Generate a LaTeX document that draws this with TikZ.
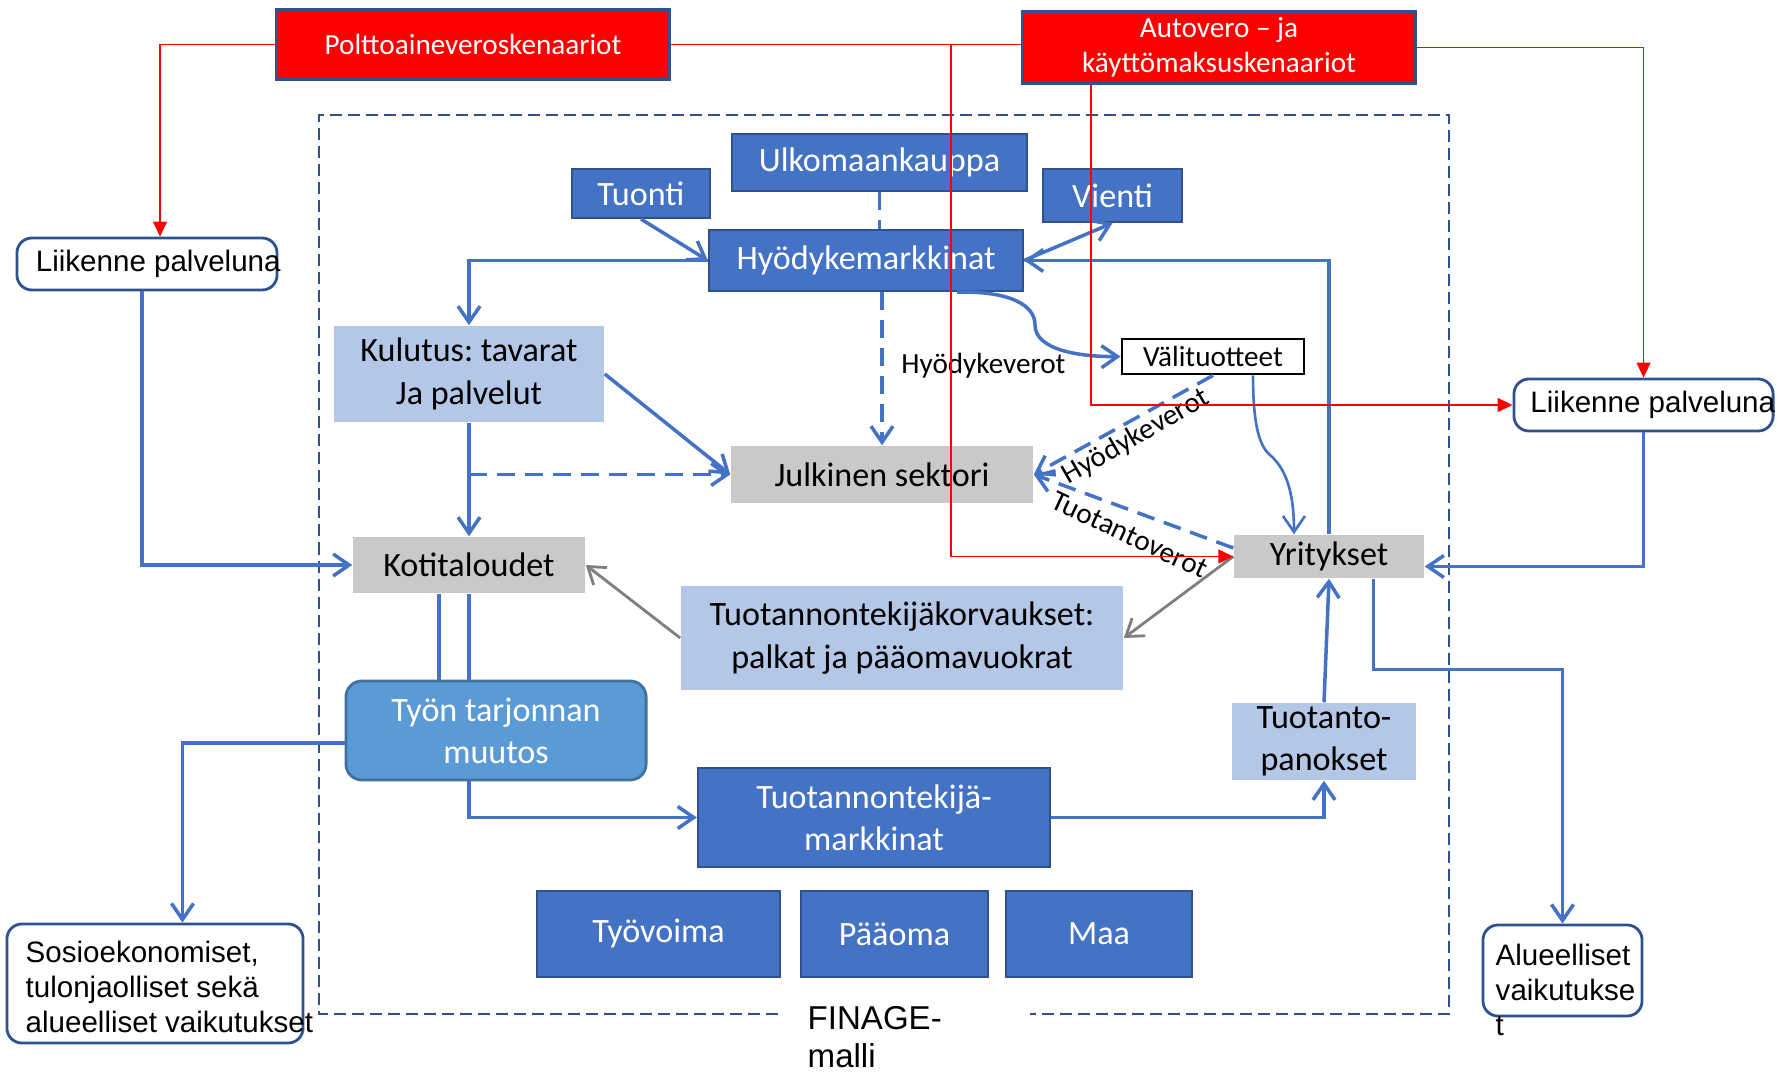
\documentclass[tikz,border=0pt]{standalone}
\usepackage{fontspec}
\setmainfont{Carlito}
\newfontfamily\arialfont{Liberation Sans}
\usetikzlibrary{arrows.meta}
\definecolor{pptblue}{HTML}{4472C4}
\definecolor{pptdark}{HTML}{2F528F}
\definecolor{pptlight}{HTML}{B4C7E7}
\definecolor{pptgray}{HTML}{C9C9C9}
\definecolor{pptmid}{HTML}{5B9BD5}
\definecolor{pptmidedge}{HTML}{41719C}
\definecolor{arrgray}{HTML}{7F7F7F}
\frenchspacing
\begin{document}
\begin{tikzpicture}[x=0.01cm,y=-0.01cm,
	bigtxt/.style={font=\fontsize{9.7}{12}\selectfont},
	smalltxt/.style={font=\fontsize{8.3}{10}\selectfont},
	arialtxt/.style={font=\arialfont\fontsize{8.4}{10}\selectfont},
	bluebox/.style={draw=pptdark,line width=0.6pt,fill=pptblue,text=white,bigtxt,align=center,inner sep=1pt},
	lightbox/.style={fill=pptlight,bigtxt,align=center,inner sep=1pt},
	graybox/.style={fill=pptgray,bigtxt,align=center,inner sep=1pt},
	redbox/.style={draw=pptdark,line width=0.9pt,fill=red,text=white,smalltxt,align=center,inner sep=1pt},
	whitebox/.style={draw=pptdark,line width=0.8pt,fill=white,rounded corners=0.15cm,arialtxt,inner sep=1pt},
	flow/.style={draw=pptblue,line width=1pt,-{Straight Barb[length=1.6mm,width=2.2mm]}},
	plainflow/.style={draw=pptblue,line width=1pt},
	dashflow/.style={dash pattern=on 0.18cm off 0.1cm},
	grayflow/.style={draw=arrgray,line width=0.8pt,-{Straight Barb[length=1.6mm,width=2.2mm]}},
	redline/.style={draw=red,line width=0.4pt,-{Triangle[length=1.5mm,width=1.4mm]}}]
	\useasboundingbox (0,0) rectangle (1786,1074);
	\draw[pptdark,line width=0.6pt,dash pattern=on 0.12cm off 0.06cm] (778,1014) -| (319,115) -| (1449,1014) -- (1030,1014);
	\node[arialtxt,font=\arialfont\fontsize{9.4}{10.8}\selectfont,align=left,anchor=north west,inner sep=0pt] (finage) at (807,1006) {FINAGE-\\malli};
	\node[redbox,minimum width=3.92cm,minimum height=0.69cm] (poltto) at (473,44.5) {Polttoaineveroskenaariot};
	\node[redbox,minimum width=3.92cm,minimum height=0.71cm] (auto) at (1219,47.5) {Autovero – ja\\käyttömaksuskenaariot};
	\node[whitebox,inner xsep=0.19cm,minimum height=0.52cm] (liik1) at (147,264) {\makebox[2.22cm][l]{Liikenne palveluna}};
	\node[whitebox,inner xsep=0.165cm,minimum height=0.52cm] (liik2) at (1643.5,405) {\makebox[2.26cm][l]{Liikenne palveluna}};
	\node[bluebox,minimum width=2.95cm,minimum height=0.57cm] (ulko) at (879.5,162.5) {Ulkomaankauppa};
	\node[bluebox,minimum width=1.38cm,minimum height=0.49cm] (tuonti) at (641,193.5) {Tuonti};
	\node[bluebox,minimum width=1.39cm,minimum height=0.53cm] (vienti) at (1112.5,195.5) {Vienti};
	\node[bluebox,minimum width=3.14cm,minimum height=0.61cm] (hyod) at (866,260.5) {Hyödykemarkkinat};
	\node[lightbox,minimum width=2.7cm,minimum height=0.96cm] (kulutus) at (469,374) {Kulutus: tavarat\\Ja palvelut};
	\node[draw=black,line width=0.8pt,fill=white,smalltxt,inner sep=1pt,minimum width=1.82cm,minimum height=0.35cm] (valit) at (1213,356.5) {Välituotteet};
	\node[graybox,minimum width=3.02cm,minimum height=0.57cm] (julk) at (882,474.5) {Julkinen sektori};
	\node[graybox,minimum width=2.32cm,minimum height=0.56cm] (koti) at (469,565) {Kotitaloudet};
	\node[graybox,minimum width=1.9cm,minimum height=0.43cm] (yrit) at (1329,556.5) {Yritykset};
	\node[lightbox,minimum width=4.42cm,minimum height=1.04cm] (ttk) at (902,638) {Tuotannontekijäkorvaukset:\\palkat ja pääomavuokrat};
	\node[draw=pptmidedge,line width=0.8pt,fill=pptmid,text=white,rounded corners=0.16cm,bigtxt,align=center,inner sep=1pt,minimum width=3cm,minimum height=0.99cm] (tyon) at (496,730.5) {Työn tarjonnan\\muutos};
	\node[lightbox,minimum width=1.84cm,minimum height=0.77cm] (panos) at (1324,741.5) {Tuotanto-\\panokset};
	\node[bluebox,minimum width=3.52cm,minimum height=0.99cm] (ttm) at (874,817.5) {Tuotannontekijä-\\markkinat};
	\node[bluebox,minimum width=2.43cm,minimum height=0.86cm] (tyovoima) at (658.5,934) {Työvoima};
	\node[bluebox,minimum width=1.87cm,minimum height=0.86cm] (paaoma) at (894.5,934) {Pääoma};
	\node[bluebox,minimum width=1.86cm,minimum height=0.86cm] (maa) at (1099,934) {Maa};
	\node[whitebox,minimum width=2.96cm,minimum height=1.19cm] (sosio) at (155,983.5) {};
	\node[arialtxt,align=left,anchor=north west,inner sep=0pt] (sosiotxt) at (25,940) {Sosioekonomiset,\\tulonjaolliset sekä\\alueelliset vaikutukset};
	\node[whitebox,minimum width=1.59cm,minimum height=0.91cm] (alue) at (1562.5,970.5) {};
	\node[arialtxt,align=left,anchor=north west,inner sep=0pt] (aluetxt) at (1495,943) {Alueelliset\\vaikutukse\\t};
	\draw[flow] (tuonti.south) -- (hyod.west);
	\draw[plainflow,dashflow] (ulko.south) -- (ulko.south |- hyod.north);
	\draw[flow] (hyod.east) -- (vienti.south);
	\draw[flow] (yrit.north) |- (hyod.east);
	\draw[flow] (hyod.west) -| (kulutus.north);
	\draw[flow,dashflow] (hyod.south -| julk.north) -- (julk.north);
	\node[smalltxt,anchor=west] (verot1) at (889,366) {Hyödykeverot};
	\draw[flow] ([xshift=0.91cm]hyod.south) .. controls (1010,291) and (1035,305) .. (1035,325) .. controls (1035,350) and (1080,357) .. (valit.west);
	\draw[flow,line width=0.75pt] ([xshift=0.4cm]valit.south) .. controls (1253,420) and (1258,445) .. (1270,455) .. controls (1285,468) and (1294,490) .. ([xshift=-0.35cm]yrit.north);
	\draw[flow,dashflow] (valit.south) -- (julk.east);
	\node[smalltxt,rotate=30] (verot2) at (1136,437) {Hyödykeverot};
	\draw[flow,dashflow] ([yshift=0.085cm]yrit.west) -- (julk.east);
	\node[smalltxt,rotate=-25] (verot3) at (1130,535) {Tuotantoverot};
	\draw[flow] (kulutus.east) -- (julk.west);
	\draw[flow] (kulutus.south) -- (koti.north);
	\draw[flow,dashflow] (kulutus.south |- julk.west) -- (julk.west);
	\draw[flow] ([xshift=-0.05cm]liik1.south) |- (koti.west);
	\draw[flow] (liik2.south) |- ([yshift=-0.1cm]yrit.east);
	\draw[flow] ([xshift=0.445cm]yrit.south) -- ++(0,91) -| (alue.north);
	\draw[flow] (panos.north) -- (yrit.south);
	\draw[flow] (ttm.east) -| (panos.south);
	\draw[grayflow] (yrit.west) -- (ttk.east);
	\draw[grayflow] (ttk.west) -- (koti.east);
	\draw[plainflow] ([xshift=-0.3cm]koti.south) -- ([xshift=-0.3cm]koti.south |- tyon.north);
	\draw[plainflow] (koti.south) -- (koti.south |- tyon.north);
	\draw[flow] (tyon.south -| koti.south) |- (ttm.west);
	\draw[flow] ([yshift=-0.125cm]tyon.west) -| ([xshift=0.275cm]sosio.north);
	\coordinate (redturn) at (951,44.5);
	\draw[redline] (poltto.west) -| ([xshift=0.13cm]liik1.north);
	\draw[draw=red,line width=0.4pt] (poltto.east) -- (poltto.east -| auto.west);
	\draw[redline] (redturn) |- (yrit.west);
	\draw[redline] ([xshift=-1.28cm]auto.south) |- (liik2.west);
	\draw[redline] (auto.east) -| (liik2.north);
\end{tikzpicture}
\end{document}
